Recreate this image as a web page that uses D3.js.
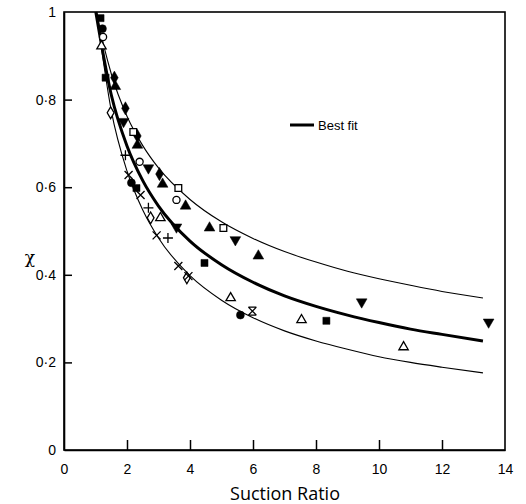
<!DOCTYPE html>
<html><head><meta charset="utf-8">
<script src="https://cdn.jsdelivr.net/npm/d3@7"></script>
<style>body{margin:0;background:#fff}</style>
</head><body>
<svg id="c" width="526" height="504"></svg>
<script>
// ---- data ----
const xTicks = [0,2,4,6,8,10,12,14];
const yTicks = [0,0.2,0.4,0.6,0.8,1];
const yTickLabels = ["0","0·2","0·4","0·6","0·8","1"];

const filledSquare   = [[1.16,0.986],[1.32,0.85],[2.3,0.598],[4.46,0.427],[8.33,0.295]];
const filledDiamond  = [[1.6,0.85],[1.95,0.78],[2.33,0.717],[3.03,0.63]];
const filledCircle   = [[1.22,0.962],[2.14,0.61],[5.6,0.308]];
const openCircle     = [[1.24,0.943],[2.4,0.658],[3.57,0.571]];
const openTriangle   = [[1.19,0.922],[3.06,0.53],[5.29,0.347],[7.54,0.297],[10.78,0.235]];
const filledTriUp    = [[1.63,0.83],[2.33,0.696],[3.13,0.607],[3.86,0.557],[4.62,0.507],[6.17,0.443]];
const filledTriDown  = [[1.89,0.75],[2.68,0.644],[3.57,0.509],[5.44,0.48],[9.45,0.338],[13.48,0.292]];
const openSquare     = [[2.2,0.726],[3.63,0.598],[5.06,0.507]];
const openDiamond    = [[1.48,0.77],[2.75,0.53],[3.9,0.393]];
const crossX         = [[2.05,0.628],[2.43,0.582],[2.94,0.49],[3.63,0.42],[3.95,0.397]];
const plusMark       = [[1.95,0.673],[2.68,0.553],[3.3,0.484]];
const asterisk       = [[5.98,0.317]];

const upperCurve = [[1.04,1.0],[1.1,0.977],[1.5,0.859],[2,0.762],[2.5,0.695],[3,0.644],[4,0.572],[5,0.521],[6,0.483],[7,0.453],[8,0.429],[9,0.408],[10,0.391],[11,0.376],[12,0.362],[13.3,0.347]];
const bestFit    = [[1.01,1.0],[1.5,0.811],[2,0.694],[2.5,0.615],[3,0.557],[4,0.477],[5,0.423],[6,0.383],[7,0.352],[8,0.328],[9,0.308],[10,0.291],[11,0.276],[12,0.264],[13.3,0.249]];
const lowerCurve = [[1.03,1.0],[1.5,0.775],[2,0.637],[2.5,0.548],[3,0.484],[4,0.398],[5,0.342],[6,0.302],[7,0.272],[8,0.249],[9,0.230],[10,0.213],[11,0.200],[12,0.189],[13.3,0.176]];

// ---- drawing ----
const svg = d3.select("#c");
const x = d3.scaleLinear().domain([0,14]).range([64,505]);
const y = d3.scaleLinear().domain([0,1]).range([450,12]);
const font = "Liberation Sans, Arial, sans-serif";

// frame
svg.append("rect").attr("x",x(0)).attr("y",y(1)).attr("width",x(14)-x(0)).attr("height",y(0)-y(1))
  .attr("fill","none").attr("stroke","#000").attr("stroke-width",1.6);

// axes with inward ticks
const gx = svg.append("g").attr("transform",`translate(0,${y(0)})`)
  .call(d3.axisBottom(x).tickValues(xTicks).tickSizeInner(-10).tickSizeOuter(0).tickPadding(14).tickFormat(d3.format("d")));
const gy = svg.append("g").attr("transform",`translate(${x(0)},0)`)
  .call(d3.axisLeft(y).tickValues(yTicks).tickSizeInner(-8).tickSizeOuter(0).tickPadding(8)
    .tickFormat((d,i)=>yTickLabels[i]));
[gx,gy].forEach(g=>{
  g.select(".domain").attr("stroke","#000").attr("stroke-width",1.6);
  g.selectAll(".tick line").attr("stroke","#000").attr("stroke-width",1.5);
  g.selectAll(".tick text").attr("font-family",font).attr("font-size",14).attr("fill","#000");
});
gx.selectAll(".tick").filter(d=>d===0||d===14).select("line").remove();
gy.selectAll(".tick").filter(d=>d===0||d===1).select("line").remove();

// curves
const line = d3.line().x(d=>x(d[0])).y(d=>y(d[1])).curve(d3.curveMonotoneX);
svg.append("path").datum(upperCurve).attr("d",line).attr("fill","none").attr("stroke","#000").attr("stroke-width",1.1);
svg.append("path").datum(lowerCurve).attr("d",line).attr("fill","none").attr("stroke","#000").attr("stroke-width",1.1);
svg.append("path").datum(bestFit).attr("d",line).attr("fill","none").attr("stroke","#000").attr("stroke-width",3);

// markers
function sym(data,type,size,filled,rot){
  svg.append("g").selectAll("path").data(data).join("path")
    .attr("transform",d=>`translate(${x(d[0])},${y(d[1])})${rot?` rotate(${rot})`:""}`)
    .attr("d",d3.symbol().type(type).size(size)())
    .attr("fill",filled?"#000":"#fff").attr("stroke","#000").attr("stroke-width",filled?0.5:1.3);
}
sym(filledSquare,d3.symbolSquare,50,true);
sym(filledDiamond,d3.symbolDiamond,50,true);
sym(filledCircle,d3.symbolCircle,50,true);
sym(openCircle,d3.symbolCircle,40,false);
sym(openTriangle,d3.symbolTriangle,38,false);
sym(filledTriUp,d3.symbolTriangle,50,true);
sym(filledTriDown,d3.symbolTriangle,50,true,180);
sym(openSquare,d3.symbolSquare,45,false);
sym(openDiamond,d3.symbolDiamond,40,false);

function strokes(data,segs){
  svg.append("g").selectAll("path").data(data).join("path")
    .attr("transform",d=>`translate(${x(d[0])},${y(d[1])})`)
    .attr("d",segs).attr("fill","none").attr("stroke","#000").attr("stroke-width",1.3);
}
strokes(crossX,"M-4,-4L4,4M-4,4L4,-4");
strokes(plusMark,"M-5,0L5,0M0,-5L0,5");
strokes(asterisk,"M-4,-4L4,4M-4,4L4,-4M-4,-4L4,-4M-4,4L4,4");

// legend
svg.append("line").attr("x1",290).attr("x2",314).attr("y1",125).attr("y2",125).attr("stroke","#000").attr("stroke-width",3);
svg.append("text").attr("x",318).attr("y",130).attr("font-family",font).attr("font-size",13).text("Best fit");

// axis titles
svg.append("text").attr("x",285).attr("y",500).attr("text-anchor","middle")
  .attr("font-family","Open Sans, Noto Sans, sans-serif").attr("font-size",18).text("Suction Ratio");
svg.append("text").attr("x",30).attr("y",263).attr("text-anchor","middle")
  .attr("font-family","DejaVu Serif, serif").attr("font-size",17).text("χ");
</script>
</body></html>
